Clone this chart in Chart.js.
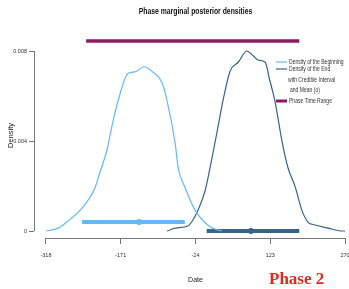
<!DOCTYPE html>
<html>
<head>
<meta charset="utf-8">
<script src="https://cdn.jsdelivr.net/npm/chart.js@4.4.1/dist/chart.umd.min.js"></script>
<style>
    html, body { margin: 0; padding: 0; background: #fff; overflow: hidden; width: 349px; height: 289px; }
    #wrap { position: relative; width: 380px; height: 289px; }
    #phaseLabel {
        position: absolute; left: 269px; top: 269px;
        font-family: 'Liberation Serif', serif; font-weight: bold; font-size: 17px;
        color: #e3281f; white-space: nowrap;
    }
</style>
</head>
<body>
<div id="wrap">
    <canvas id="densityChart" width="380" height="289"></canvas>
    <div id="phaseLabel">Phase 2</div>
</div>
<script>
// Mật độ của điểm bắt đầu
const beginDates = [-318, -294, -277, -245, -222, -212, -198, -186, -176, -157, -143, -125, -108, -90, -80, -64, -58, -45, -25, 0, 14, 28];
const beginDens = [0, 0.00013, 0.0004, 0.00107, 0.0019, 0.0026, 0.0036, 0.0049, 0.0058, 0.0070, 0.00707, 0.0073, 0.00707, 0.0066, 0.0058, 0.0039, 0.0028, 0.00196, 0.00093, 0.00027, 0.00009, 0];

// Mật độ của điểm kết thúc
const endDates = [-80, -64, -39, -29, -19, -5, 8, 20, 30, 44, 60, 77, 89, 99, 113, 122, 132, 146, 158, 172, 185, 197, 211, 237, 264, 270];
const endDens = [0, 0.00013, 0.00022, 0.00049, 0.00093, 0.0018, 0.0032, 0.0046, 0.0058, 0.0071, 0.0075, 0.0080, 0.0078, 0.0076, 0.0075, 0.0067, 0.0058, 0.0040, 0.0028, 0.00196, 0.00093, 0.0004, 0.00027, 0.00013, 0, 0];

// Khoảng tin cậy và trung bình
const beginInterval = [-247, -45];
const beginMean = -135;
const beginIntervalLevel = 0.0004;
const endInterval = [-2, 180];
const endMean = 85;
const endIntervalLevel = 0;
const phaseRange = [-239, 180];
const phaseRangeLevel = 0.00844;

// Nhãn trục
const xTicks = [-318, -171, -24, 123, 270];
const yTicks = [0, 0.004, 0.008];

const chartTitle = 'Phase marginal posterior densities';

const lightBlue = '#63B8FF';
const darkBlue = '#36648B';
const maroon = '#8B1C62';
const axisColor = '#777';
const textFont = "'Liberation Sans', Arial, sans-serif";

function toPoints(xs, ys) {
    return xs.map((x, i) => ({ x: x, y: ys[i] }));
}

function flatLine(range, level) {
    return range.map(x => ({ x: x, y: level }));
}

// Vẽ chữ hẹp (giống Arial Narrow)
function narrowText(ctx, text, x, y, scaleX, align) {
    ctx.save();
    ctx.translate(x, y);
    ctx.scale(scaleX, 1);
    ctx.textAlign = align || 'left';
    ctx.fillText(text, 0, 0);
    ctx.restore();
}

// Vẽ trục kiểu R (chỉ giữa các nhãn đầu và cuối)
const rAxesPlugin = {
    id: 'rAxes',
    afterDraw(chart) {
        const ctx = chart.ctx;
        const xs = chart.scales.x;
        const ys = chart.scales.y;
        const area = chart.chartArea;
        ctx.save();
        ctx.strokeStyle = axisColor;
        ctx.lineWidth = 1;
        ctx.beginPath();
        ctx.moveTo(area.left + 0.5, ys.getPixelForValue(yTicks[yTicks.length - 1]));
        ctx.lineTo(area.left + 0.5, ys.getPixelForValue(yTicks[0]));
        ctx.moveTo(xs.getPixelForValue(xTicks[0]), area.bottom + 0.5);
        ctx.lineTo(xs.getPixelForValue(xTicks[xTicks.length - 1]), area.bottom + 0.5);
        ctx.stroke();

        // Tiêu đề
        ctx.fillStyle = '#111';
        ctx.font = 'bold 9px ' + textFont;
        ctx.textBaseline = 'middle';
        narrowText(ctx, chartTitle, (area.left + area.right) / 2, 12, 0.76, 'center');
        ctx.restore();
    }
};

// Chú thích bên trong vùng vẽ
const legendItems = [
    { text: 'Density of the Beginning', color: lightBlue, width: 1.2, dy: 29 },
    { text: 'Density of the End', color: darkBlue, width: 1.2, dy: 36 },
    { text: 'with Credible Interval', color: null, dy: 47, indent: -1 },
    { text: 'and Mean (o)', color: null, dy: 57.5, indent: 1 },
    { text: 'Phase Time Range', color: maroon, width: 3, dy: 68 }
];

const insideLegendPlugin = {
    id: 'insideLegend',
    afterDraw(chart) {
        const ctx = chart.ctx;
        const area = chart.chartArea;
        const lineX = area.right - 81;
        ctx.save();
        ctx.font = '7px ' + textFont;
        ctx.textBaseline = 'middle';
        ctx.fillStyle = '#333';
        legendItems.forEach(item => {
            const y = area.top + item.dy;
            if (item.color) {
                ctx.strokeStyle = item.color;
                ctx.lineWidth = item.width;
                ctx.beginPath();
                ctx.moveTo(lineX, y);
                ctx.lineTo(lineX + 11, y);
                ctx.stroke();
            }
            narrowText(ctx, item.text, lineX + 13 + (item.indent || 0), y, 0.72);
        });
        ctx.restore();
    }
};

function initDensityChart() {
    const ctx = document.getElementById('densityChart').getContext('2d');

    new Chart(ctx, {
        type: 'line',
        data: {
            datasets: [
                {
                    label: 'Density of the Beginning',
                    data: toPoints(beginDates, beginDens),
                    borderColor: lightBlue,
                    borderWidth: 1.2,
                    pointRadius: 0,
                    cubicInterpolationMode: 'monotone'
                },
                {
                    label: 'Density of the End',
                    data: toPoints(endDates, endDens),
                    borderColor: darkBlue,
                    borderWidth: 1.2,
                    pointRadius: 0,
                    cubicInterpolationMode: 'monotone'
                },
                {
                    label: 'Beginning interval',
                    data: flatLine(beginInterval, beginIntervalLevel),
                    borderColor: lightBlue,
                    borderWidth: 4,
                    pointRadius: 0
                },
                {
                    label: 'Beginning mean',
                    data: [{ x: beginMean, y: beginIntervalLevel }],
                    showLine: false,
                    pointRadius: 3,
                    pointBackgroundColor: lightBlue,
                    pointBorderWidth: 0
                },
                {
                    label: 'End interval',
                    data: flatLine(endInterval, endIntervalLevel),
                    borderColor: darkBlue,
                    borderWidth: 4,
                    pointRadius: 0
                },
                {
                    label: 'End mean',
                    data: [{ x: endMean, y: endIntervalLevel }],
                    showLine: false,
                    pointRadius: 3,
                    pointBackgroundColor: darkBlue,
                    pointBorderWidth: 0
                },
                {
                    label: 'Phase Time Range',
                    data: flatLine(phaseRange, phaseRangeLevel),
                    borderColor: maroon,
                    borderWidth: 3.5,
                    pointRadius: 0
                }
            ]
        },
        options: {
            responsive: false,
            animation: false,
            clip: false,
            layout: { padding: { left: 0, right: 23, top: 33, bottom: 0 } },
            plugins: {
                legend: { display: false },
                tooltip: { enabled: false },
                title: { display: false }
            },
            scales: {
                x: {
                    type: 'linear',
                    min: -341.5,
                    max: 293.5,
                    afterBuildTicks: function(scale) {
                        scale.ticks = xTicks.map(v => ({ value: v }));
                    },
                    afterFit: function(scale) {
                        scale.height = 51;
                    },
                    border: { display: false },
                    grid: { drawOnChartArea: false, drawTicks: true, tickLength: 6, color: axisColor },
                    ticks: {
                        padding: 8,
                        color: '#333',
                        font: { family: textFont, size: 5.5 },
                        maxRotation: 0,
                        autoSkip: false,
                        callback: function(value) { return String(value); }
                    },
                    title: {
                        display: true,
                        text: 'Date',
                        color: '#222',
                        font: { family: textFont, size: 7 },
                        padding: { top: 0, bottom: 5 }
                    }
                },
                y: {
                    min: -0.00031,
                    max: 0.0088,
                    afterBuildTicks: function(scale) {
                        scale.ticks = yTicks.map(v => ({ value: v }));
                    },
                    afterFit: function(scale) {
                        scale.width = 34;
                    },
                    border: { display: false },
                    grid: { drawOnChartArea: false, drawTicks: true, tickLength: 5, color: axisColor },
                    ticks: {
                        padding: 2,
                        color: '#333',
                        font: { family: textFont, size: 5.5 },
                        autoSkip: false,
                        callback: function(value) { return String(value); }
                    },
                    title: {
                        display: true,
                        text: 'Density',
                        color: '#222',
                        font: { family: textFont, size: 7.5 },
                        padding: { top: 6, bottom: 0 }
                    }
                }
            }
        },
        plugins: [rAxesPlugin, insideLegendPlugin]
    });
}

initDensityChart();
</script>
</body>
</html>
